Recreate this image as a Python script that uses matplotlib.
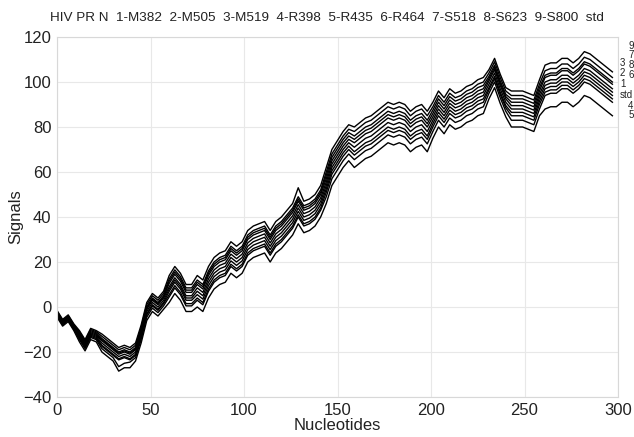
import matplotlib
matplotlib.use("Agg")
import matplotlib.pyplot as plt
import numpy as np

plt.rcParams['font.family'] = ['Liberation Sans', 'DejaVu Sans']

# nucleotide positions (every 3rd) and signals
nucleotides = np.arange(0, 300, 3)

s9 = [-1.5, -5.5, -3.5, -7.5, -10.5, -14.5, -9.5, -10.5,
      -12, -14, -16, -18, -17, -18, -16, -8, 2, 6, 4, 7,
      14, 18, 15, 10, 10,
      14, 12, 18, 22, 24, 25, 29, 27, 29, 34, 36, 37, 38, 34, 38, 40, 43, 46, 53, 47, 48, 50, 54,
      62, 70, 74, 78, 81,
      80, 82, 84, 85, 87, 89, 91, 90, 91, 90, 87, 89, 90, 87,
      91, 96, 93, 97, 95, 96, 98, 99, 101, 102,
      105.5, 110.5, 103.5, 97.5,
      96, 96, 96, 95, 94, 101,
      107.5, 108.5, 108.5, 110.5, 110.5, 108.5, 110.5, 113.5, 112.5, 110.5, 108.5, 106.5, 104.5]
s7 = [-2, -6, -4, -8, -11, -15, -10, -11,
      -13, -15, -17, -19, -18, -19, -17, -9, 1, 5, 3, 6,
      12.5, 16.5, 13.5, 8.5, 8.5,
      12, 10, 16, 20, 22, 23, 27, 25, 27, 32, 34, 35, 36, 32, 36, 38, 41, 44, 49, 45, 46, 48, 52,
      60, 68, 72, 76, 79,
      78, 80, 82, 83, 85, 87, 89, 88, 89, 88, 85, 87, 88, 85,
      89, 94, 91, 95, 93, 94, 96, 97, 99, 100,
      104, 109, 102, 96,
      94, 94, 94, 93, 92, 99,
      105, 106, 106, 108, 108, 106, 108, 111, 110, 108, 106, 104, 102]
s3 = [-2, -6, -4, -8, -11.5, -15.5, -10.5, -11.5,
      -14, -16, -18, -20, -19, -20, -18, -10, 0, 4, 2, 5,
      11.5, 15.5, 12.5, 7.5, 7.5,
      11, 9, 15, 19, 21, 22, 26, 24, 26, 31, 33, 34, 35, 31, 35, 37, 40, 43, 48, 44, 45, 47, 51,
      58.5, 66.5, 70.5, 74.5, 77.5,
      76, 78, 80, 81, 83, 85, 87, 86, 87, 86, 83, 85, 86, 83,
      87.5, 92.5, 89.5, 93.5, 91.5, 92.5, 94.5, 95.5, 97.5, 98.5,
      102.5, 107.5, 100.5, 94.5,
      92.5, 92.5, 92.5, 91.5, 90.5, 97.5,
      103, 104, 104, 106, 106, 104, 106, 109, 108, 106, 104, 102, 100]
s8 = [-2.5, -6.5, -4.5, -8.5, -12, -16, -11, -12,
      -14.5, -16.5, -18.5, -20.5, -19.5, -20.5, -18.5, -10.5, -0.5, 3.5, 1.5, 4.5,
      10.5, 14.5, 11.5, 6.5, 6.5,
      10, 8, 14, 18, 20, 21, 25, 23, 25, 30, 32, 33, 34, 30, 34, 36, 39, 42, 47, 43, 44, 46, 50,
      57, 65, 69, 73, 76,
      74.5, 76.5, 78.5, 79.5, 81.5, 83.5, 85.5, 84.5, 85.5, 84.5, 81.5, 83.5, 84.5, 81.5,
      86, 91, 88, 92, 90, 91, 93, 94, 96, 97,
      101.5, 106.5, 99.5, 93.5,
      91, 91, 91, 90, 89, 96,
      102, 103, 103, 105, 105, 103, 105, 108, 107, 105, 103, 101, 99]
s2 = [-2.5, -6.5, -4.5, -8.5, -12.5, -16.5, -11.5, -12.5,
      -15, -17, -19, -21, -20, -21, -19, -11, -1, 3, 1, 4,
      9, 13, 10, 5, 5,
      8.5, 6.5, 12.5, 16.5, 18.5, 19.5, 23.5, 21.5, 23.5, 28.5, 30.5, 31.5, 32.5, 28.5, 32.5,
      34.5, 37.5, 40.5, 45.5, 41.5, 42.5, 44.5, 48.5,
      55.5, 63.5, 67.5, 71.5, 74.5,
      73, 75, 77, 78, 80, 82, 84, 83, 84, 83, 80, 82, 83, 80,
      84.5, 89.5, 86.5, 90.5, 88.5, 89.5, 91.5, 92.5, 94.5, 95.5,
      100.5, 105.5, 98.5, 92.5,
      89.5, 89.5, 89.5, 88.5, 87.5, 94.5,
      100, 101, 101, 103, 103, 101, 103, 106, 105, 103, 101, 99, 97]
s6 = [-3, -7, -5, -9, -13, -17, -12, -13,
      -16, -18, -20, -22, -21, -22, -20, -12, -2, 2, 0, 3,
      8, 12, 9, 4, 4,
      7, 5, 11, 15, 17, 18, 22, 20, 22, 27, 29, 30, 31, 27, 31, 33, 36, 39, 44, 40, 41, 43, 47,
      54, 62, 66, 70, 73,
      71, 73, 75, 76, 78, 80, 82, 81, 82, 81, 78, 80, 81, 78,
      83, 88, 85, 89, 87, 88, 90, 91, 93, 94,
      99, 104, 97, 91,
      88, 88, 88, 87, 86, 93,
      98.5, 99.5, 99.5, 101.5, 101.5, 99.5, 101.5, 104.5, 103.5, 101.5, 99.5, 97.5, 95.5]
s1 = [-3.5, -7.5, -5.5, -9.5, -13.5, -17.5, -12.5, -13.5,
      -17, -19, -21, -23, -22, -23, -21, -13, -3, 1, -1, 2,
      7, 11, 8, 3, 3,
      5.5, 3.5, 9.5, 13.5, 15.5, 16.5, 20.5, 18.5, 20.5, 25.5, 27.5, 28.5, 29.5, 25.5, 29.5,
      31.5, 34.5, 37.5, 42.5, 38.5, 39.5, 41.5, 45.5,
      52.5, 60.5, 64.5, 68.5, 71.5,
      69, 71, 73, 74, 76, 78, 80, 79, 80, 79, 76, 78, 79, 76,
      81.5, 86.5, 83.5, 87.5, 85.5, 86.5, 88.5, 89.5, 91.5, 92.5,
      97.5, 102.5, 95.5, 89.5,
      86.5, 86.5, 86.5, 85.5, 84.5, 91.5,
      97, 98, 98, 100, 100, 98, 100, 103, 102, 100, 98, 96, 94]
s_std = [-3.5, -7.5, -5.5, -9.5, -14, -18, -13, -14,
         -17.5, -19.5, -21.5, -23.5, -22.5, -23.5, -21.5, -13.5, -3.5, 0.5, -1.5, 1.5,
         5.5, 9.5, 6.5, 1.5, 1.5,
         4, 2, 8, 12, 14, 15, 19, 17, 19, 24, 26, 27, 28, 24, 28, 30, 33, 36, 41, 37, 38, 40, 44,
         51, 59, 63, 67, 70,
         67.5, 69.5, 71.5, 72.5, 74.5, 76.5, 78.5, 77.5, 78.5, 77.5, 74.5, 76.5, 77.5, 74.5,
         80, 85, 82, 86, 84, 85, 87, 88, 90, 91,
         96.5, 101.5, 94.5, 88.5,
         85, 85, 85, 84, 83, 90,
         95.5, 96.5, 96.5, 98.5, 98.5, 96.5, 98.5, 101.5, 100.5, 98.5, 96.5, 94.5, 92.5]
s4 = [-4, -8, -6, -10, -14.5, -18.5, -13.5, -14.5,
      -18.5, -20.5, -22.5, -26.5, -25, -24.5, -22.5, -14.5, -4.5, -0.5, -2.5, 0.5,
      4.5, 8.5, 5.5, 0.5, 0.5,
      3, 1, 7, 11, 13, 14, 18, 16, 18, 23, 25, 26, 27, 23, 27, 29, 32, 35, 40, 36, 37, 39, 43,
      49, 57, 61, 65, 68,
      65.5, 67.5, 69.5, 70.5, 72.5, 74.5, 76.5, 75.5, 76.5, 75.5, 72.5, 74.5, 75.5, 72.5,
      78, 83, 80, 84, 82, 83, 85, 86, 88, 89,
      95, 100, 93, 87,
      83, 83, 83, 82, 81, 88,
      94, 95, 95, 97, 97, 95, 97, 100, 99, 97, 95, 93, 91]
s5 = [-4.5, -8.5, -6.5, -10.5, -15.5, -19.5, -14.5, -15.5,
      -20, -22, -24, -28.5, -27, -27, -24, -16, -6, -2, -4, -1,
      2, 6, 3, -2, -2,
      0, -2, 4, 8, 10, 11, 15, 13, 15, 20, 22, 23, 24, 20, 24, 26, 29, 32, 37, 33, 34, 36, 40,
      46, 54, 58, 62, 65,
      62, 64, 66, 67, 69, 71, 73, 72, 73, 72, 69, 71, 72, 69,
      75, 80, 77, 81, 79, 80, 82, 83, 85, 86,
      92.5, 97.5, 90.5, 84.5,
      80, 80, 80, 79, 78, 85,
      88, 89, 89, 91, 91, 89, 91, 94, 93, 91, 89, 87, 85]

series = [s1, s2, s3, s4, s5, s6, s7, s8, s9, s_std]

title_items = ['HIV PR N', '1-M382', '2-M505', '3-M519', '4-R398', '5-R435',
               '6-R464', '7-S518', '8-S623', '9-S800', 'std']

# end labels: text, y position, column
end_labels = [('9', 116, 1), ('7', 112, 1), ('3', 108.5, 0), ('8', 107.5, 1),
              ('2', 104, 0), ('6', 103, 1), ('1', 99, 0), ('std', 94, 0),
              ('4', 89.5, 1), ('5', 85.5, 1)]

fig = plt.figure(figsize=(6.34, 4.37), dpi=100)
ax = fig.add_axes([57/634, 40/437, 561/634, 360/437])

for s in series:
    ax.plot(nucleotides, s, color='black', lw=1.0)

ax.set_xlim(0, 300)
ax.set_ylim(-40, 120)
ax.set_xticks(range(0, 301, 50))
ax.set_yticks(range(-40, 121, 20))
ax.grid(True, color='#e8e8e8', lw=0.8)
ax.set_axisbelow(True)
for sp in ax.spines.values():
    sp.set_color('#d8d8d8')
    sp.set_linewidth(0.8)
ax.tick_params(length=0, labelsize=12, colors='#222222', pad=4)

ax.set_xlabel('Nucleotides', fontsize=12, labelpad=0, color='#222222')
ax.set_ylabel('Signals', fontsize=12, labelpad=0, color='#222222')

fig.text(0.515, 1 - 18/437, '  '.join(title_items), fontsize=9.7,
         ha='center', va='center', color='#222222')

for txt, yv, col in end_labels:
    ax.text(301 + col * 4.5, yv, txt, fontsize=7, va='center', ha='left',
            clip_on=False, color='#222222')

fig.savefig('out.png', dpi=100)
